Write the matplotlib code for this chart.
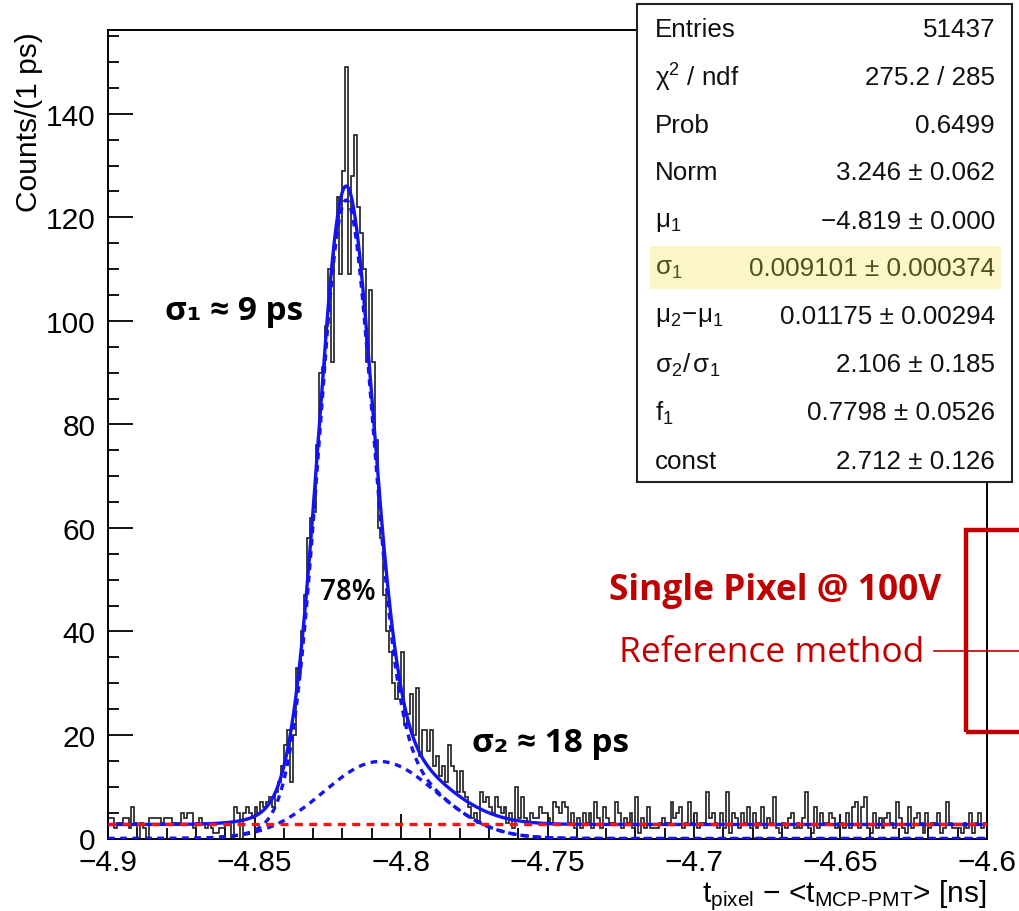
import numpy as np
import matplotlib
matplotlib.use('Agg')
import matplotlib.pyplot as plt
from matplotlib.patches import Rectangle
from matplotlib.lines import Line2D
from matplotlib.ticker import MultipleLocator, FuncFormatter

# histogram: 300 bins of 1 ps between -4.9 and -4.6 ns
x_lo, x_hi, n_bins = -4.9, -4.6, 300
counts = [
    4, 4, 2, 3, 3, 4, 4, 2, 6, 3, 0, 3, 2, 0, 4, 4, 4, 4, 3, 4,
    4, 4, 3, 3, 3, 5, 4, 5, 5, 2, 3, 4, 3, 2, 3, 2, 1, 1, 2, 2,
    3, 3, 0, 6, 5, 0, 5, 6, 5, 4,
    6, 5, 7, 6, 7, 8, 6, 9, 11, 14, 18, 21, 11, 20, 33, 32, 40, 47, 58, 62,
    63, 76, 90, 91, 99, 110, 92, 116, 124, 109, 129, 149, 109, 128, 136, 122, 117, 110, 92, 106,
    92, 77, 60, 58, 47, 40, 36, 30, 27, 30,
    36, 22, 24, 28, 20, 29, 16, 21, 21, 17, 21, 14, 16, 12, 14, 11, 18, 14, 13, 9,
    13, 9, 8, 6, 4, 5, 3, 9, 7, 8, 6, 5, 8, 6, 5, 6, 3, 5, 2, 10,
    4, 8, 4, 3, 5, 4, 4, 6, 5, 5,
    4, 3, 7, 6, 5, 7, 6, 3, 5, 2, 4, 2, 5, 3, 5, 2, 7, 4, 2, 6,
    4, 3, 3, 7, 5, 2, 4, 3, 5, 2, 8, 1, 4, 2, 6, 2, 2, 2, 3, 4,
    3, 3, 7, 4, 5, 6, 2, 3, 7, 3,
    5, 2, 3, 3, 9, 4, 5, 3, 2, 5, 2, 9, 1, 5, 4, 2, 5, 3, 6, 2,
    5, 2, 3, 6, 2, 4, 3,
    8, 2, 1, 3, 2, 4, 5, 2, 3, 2, 4, 9, 2, 1, 6, 2, 5, 3, 3, 5,
    4, 2, 3, 3, 2, 5, 2, 6, 7, 2, 6, 8, 2, 1, 5, 2, 4, 2, 4, 5,
    3, 2, 7, 4, 2, 1, 6, 2, 4, 5, 3, 1, 5, 2, 3, 3, 5, 1, 2, 7,
    3, 2, 2, 2, 1, 3, 2, 5, 1, 3, 5, 2, 3,
]

# fit results from the stat box
norm = 3.246
mu1 = -4.819
sigma1 = 0.009101
dmu = 0.01175
sig_ratio = 2.106
f1 = 0.7798
const = 2.712

stat_labels = ['Entries', r'$\chi^{2}$ / ndf', 'Prob', 'Norm', r'$\mu_{1}$', r'$\sigma_{1}$',
               r'$\mu_{2}\!-\!\mu_{1}$', r'$\sigma_{2}/\,\sigma_{1}$', r'$f_{1}$', 'const']
stat_values = ['51437', '275.2 / 285', '0.6499', '3.246 ± 0.062', '−4.819 ± 0.000',
               '0.009101 ± 0.000374', '0.01175 ± 0.00294', '2.106 ± 0.185',
               '0.7798 ± 0.0526', '2.712 ± 0.126']

plt.rcParams['font.family'] = ['Liberation Sans', 'DejaVu Sans']
plt.rcParams['mathtext.fontset'] = 'custom'
plt.rcParams['mathtext.rm'] = 'Liberation Sans'
plt.rcParams['mathtext.it'] = 'Liberation Sans'
plt.rcParams['mathtext.default'] = 'regular'

W, H = 1020, 912


def fx(px):
    return px / W


def fy(py):
    return 1 - py / H


def gauss(x, mu, sig):
    return np.exp(-0.5 * ((x - mu) / sig) ** 2) / (sig * np.sqrt(2 * np.pi))


fig = plt.figure(figsize=(W / 100, H / 100), dpi=100)
ax = fig.add_axes([fx(108), fy(839.5), fx(987) - fx(108), fy(31) - fy(839.5)])

edges = np.linspace(x_lo, x_hi, n_bins + 1)
ax.stairs(counts, edges, color='#1e1e1e', lw=1.2, zorder=2)

xs = np.linspace(x_lo, x_hi, 1200)
mu2 = mu1 + dmu
sigma2 = sigma1 * sig_ratio
g1 = norm * f1 * gauss(xs, mu1, sigma1)
g2 = norm * (1 - f1) * gauss(xs, mu2, sigma2)
total = g1 + g2 + const

blue = '#1414f0'
# dashed components: both gaussians (without constant) and the wide one alone
ax.plot(xs, g1 + g2, color=blue, lw=2.4, ls=(0, (2.0, 1.7)), zorder=3)
ax.plot(xs, g2, color=blue, lw=2.4, ls=(0, (2.0, 1.7)), zorder=3)
ax.plot(xs, total, color=blue, lw=2.4, zorder=4)
ax.plot([x_lo, x_hi], [const, const], color='#ff1010', lw=2.4, ls=(0, (2.4, 1.9)), zorder=5)

ax.set_xlim(x_lo, x_hi)
ax.set_ylim(0, 156.2)
ax.xaxis.set_major_locator(MultipleLocator(0.05))
ax.xaxis.set_minor_locator(MultipleLocator(0.01))
ax.yaxis.set_major_locator(MultipleLocator(20))
ax.yaxis.set_minor_locator(MultipleLocator(5))
ax.xaxis.set_major_formatter(FuncFormatter(lambda v, p: ('%g' % round(v, 3)).replace('-', '\u2212')))
ax.tick_params(which='both', direction='in', top=False, right=False, width=1.3, colors='black')
ax.tick_params(which='major', length=18, labelsize=21.5)
ax.tick_params(which='minor', length=8)
ax.tick_params(axis='x', which='major', pad=7)
ax.tick_params(axis='y', which='major', pad=9)
for s in ax.spines.values():
    s.set_linewidth(1.4)

fig.text(fx(29), fy(32), 'Counts/(1 ps)', rotation=90, ha='center', va='top', fontsize=21.5)
fig.text(fx(987), fy(902), r'$t_{pixel}$ $-$ <$t_{MCP\text{-}PMT}$> [ns]', ha='right', va='baseline',
         fontsize=21.5)

# stat box
fig.add_artist(Rectangle((fx(637), fy(483)), fx(1012) - fx(637), fy(5) - fy(483),
                         transform=fig.transFigure, facecolor='white', edgecolor='#222222', lw=1.5, zorder=6))
fig.add_artist(Rectangle((fx(650), fy(290)), fx(1001) - fx(650), fy(247) - fy(290),
                         transform=fig.transFigure, facecolor='#fbf6c8', edgecolor='none', zorder=7))
row_y = [30, 78, 126, 173, 222, 269, 317, 365, 413, 462]
for i, (lab, val) in enumerate(zip(stat_labels, stat_values)):
    c = '#4e4e22' if i == 5 else '#111111'
    fig.text(fx(655), fy(row_y[i]), lab, ha='left', va='center', fontsize=18.7, color=c, zorder=8)
    fig.text(fx(995), fy(row_y[i]), val, ha='right', va='center', fontsize=18.7, color=c, zorder=8)

# annotations
ann = dict(family=['Open Sans', 'DejaVu Sans'], fontweight='bold', color='black')
fig.text(fx(165), fy(320), 'σ₁ ≈ 9 ps', ha='left', va='baseline', fontsize=24, **ann)
fig.text(fx(320), fy(600), '78%', ha='left', va='baseline', fontsize=20,
         family=['Open Sans', 'DejaVu Sans'], fontweight='semibold')
fig.text(fx(472), fy(752), 'σ₂ ≈ 18 ps', ha='left', va='baseline', fontsize=24, **ann)

red = '#c00000'
fig.text(fx(941), fy(600), 'Single Pixel @ 100V', ha='right', va='baseline', fontsize=25.5,
         family=['Open Sans', 'DejaVu Sans'], fontweight='bold', color=red)
fig.text(fx(924), fy(662), 'Reference method', ha='right', va='baseline', fontsize=25.5,
         family=['Open Sans', 'DejaVu Sans'], color=red)
fig.add_artist(Line2D([fx(934), fx(1020)], [fy(652), fy(652)], transform=fig.transFigure,
                      color=red, lw=1.2, zorder=6))
fig.add_artist(Rectangle((fx(966), fy(733)), fx(1040) - fx(966), fy(531) - fy(733),
                         transform=fig.transFigure, facecolor='none', edgecolor=red, lw=3.2, zorder=6))

fig.savefig('out.png', dpi=100)
